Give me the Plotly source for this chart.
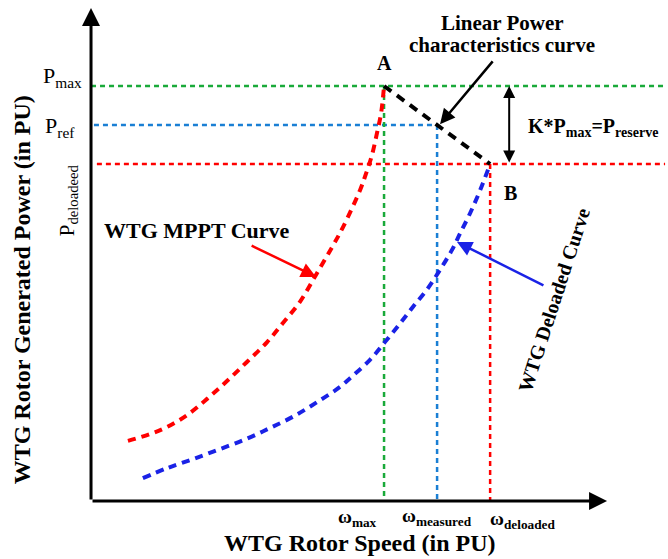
import plotly.graph_objects as go

# Operating points (per-unit)
omega_max = 1.0
omega_measured = 1.181
omega_deloaded = 1.362
p_max = 1.0
p_ref = 0.906
p_deloaded = 0.812

# MPPT curve samples (speed, power)
mppt_w = [0.126, 0.201, 0.259, 0.328, 0.396, 0.464, 0.532, 0.601, 0.655, 0.713,
          0.771, 0.823, 0.860, 0.918, 0.939, 0.959, 0.976, 0.990, 1.0]
mppt_p = [0.145, 0.161, 0.178, 0.207, 0.246, 0.289, 0.335, 0.383, 0.429, 0.480,
          0.549, 0.612, 0.660, 0.749, 0.790, 0.834, 0.887, 0.935, 1.0]

# Deloaded curve samples (speed, power)
del_w = [0.177, 0.259, 0.348, 0.440, 0.532, 0.611, 0.689, 0.771, 0.850, 0.884,
         0.952, 1.003, 1.055, 1.099, 1.147, 1.191, 1.232, 1.259, 1.294, 1.328, 1.362]
del_p = [0.055, 0.079, 0.101, 0.125, 0.150, 0.176, 0.203, 0.238, 0.275, 0.296,
         0.340, 0.383, 0.428, 0.468, 0.510, 0.557, 0.605, 0.644, 0.694, 0.749, 0.812]

x_end = 1.959  # right end of reference lines
FONT = "Liberation Serif"

fig = go.Figure()

def line(xs, ys, color, width, dash, shape="linear"):
    fig.add_trace(go.Scatter(x=xs, y=ys, mode="lines",
                             line=dict(color=color, width=width, dash=dash, shape=shape,
                                       smoothing=1.0 if shape == "spline" else None),
                             hoverinfo="skip", showlegend=False))

dot = "5px,4px"
# horizontal reference lines
line([0.0, x_end], [p_max, p_max], "#1aaa3a", 2.5, dot)
line([0.01, omega_measured], [p_ref, p_ref], "#1a7fd4", 2.5, dot)
line([0.02, x_end], [p_deloaded, p_deloaded], "#ff0000", 2.5, dot)
# vertical reference lines
line([omega_max, omega_max], [p_max, 0], "#1aaa3a", 2.5, dot)
line([omega_measured, omega_measured], [p_ref, 0], "#1a7fd4", 2.5, dot)
line([omega_deloaded, omega_deloaded], [p_deloaded, 0], "#ff0000", 2.5, dot)

# curves
line(mppt_w, mppt_p, "#ff0000", 4, "8px,6px", "spline")
line(del_w, del_p, "#1a22e6", 4, "8px,6px", "spline")
# linear power characteristic A-B
line([omega_max, omega_deloaded], [p_max, p_deloaded], "#000000", 4, "9px,7px")

ann = []

def text(x, y, s, size, angle=0, xanchor="center"):
    ann.append(dict(x=x, y=y, text=s, showarrow=False, textangle=angle,
                    xanchor=xanchor, yanchor="middle",
                    font=dict(family=FONT, size=size, color="black")))

def arrow(x, y, ax, ay, color, width=2.5, head=2, size=1.2, side="end"):
    ann.append(dict(x=x, y=y, ax=ax, ay=ay, xref="x", yref="y", axref="x", ayref="y",
                    text="", showarrow=True, arrowhead=head, arrowsize=size,
                    arrowwidth=width, arrowcolor=color, arrowside=side,
                    startarrowhead=head, startarrowsize=size))

# axes with arrowheads
arrow(0, 1.188, 0, 0, "black", width=3, head=2, size=1.2)
arrow(1.761, 0, 0, 0, "black", width=3, head=2, size=1.2)

# axis titles
text(0.918, -0.101, "<b>WTG Rotor Speed (in PU)</b>", 24)
text(-0.235, 0.508, "<b>WTG Rotor Generated Power (in PU)</b>", 24, angle=-90)

# power labels
text(-0.099, 1.022, "P<sub>max</sub>", 22)
text(-0.106, 0.901, "P<sub>ref</sub>", 22)
text(-0.078, 0.725, "P<sub>deloadeed</sub>", 21, angle=-90)

# speed labels
text(0.908, -0.041, "<b>ω<sub>max</sub></b>", 19)
text(1.181, -0.039, "<b>ω<sub>measured</sub></b>", 19)
text(1.474, -0.046, "<b>ω<sub>deloaded</sub></b>", 19)

# point labels
text(1.0, 1.055, "<b>A</b>", 20)
text(1.430, 0.742, "<b>B</b>", 20)

# linear characteristic callout
text(1.403, 1.152, "<b>Linear Power</b>", 21)
text(1.403, 1.099, "<b>characteristics curve</b>", 21)
arrow(1.191, 0.908, 1.375, 1.063, "black", width=2.5, head=2, size=1.2)

# reserve margin
arrow(1.427, p_max, 1.427, p_deloaded, "black", width=2, head=2, size=1.2, side="end+start")
text(1.713, 0.899, "<b>K*P<sub>max</sub>=P<sub>reserve</sub></b>", 20)

# curve callouts
text(0.362, 0.651, "<b>WTG MPPT Curve</b>", 22)
arrow(0.768, 0.540, 0.543, 0.617, "#ff0000", width=2.5, head=2, size=1.2)
text(1.580, 0.484, "<b>WTG Deloaded Curve</b>", 20, angle=-72)
arrow(1.249, 0.624, 1.549, 0.518, "#1a22e6", width=2.5, head=2, size=1.2)

fig.update_layout(
    width=668, height=559,
    margin=dict(l=0, r=0, t=0, b=0),
    paper_bgcolor="white", plot_bgcolor="white",
    xaxis=dict(range=[-0.3106, 1.969], visible=False, fixedrange=True),
    yaxis=dict(range=[-0.1398, 1.2072], visible=False, fixedrange=True),
    annotations=ann,
    showlegend=False,
)

fig.write_html("out.html")
